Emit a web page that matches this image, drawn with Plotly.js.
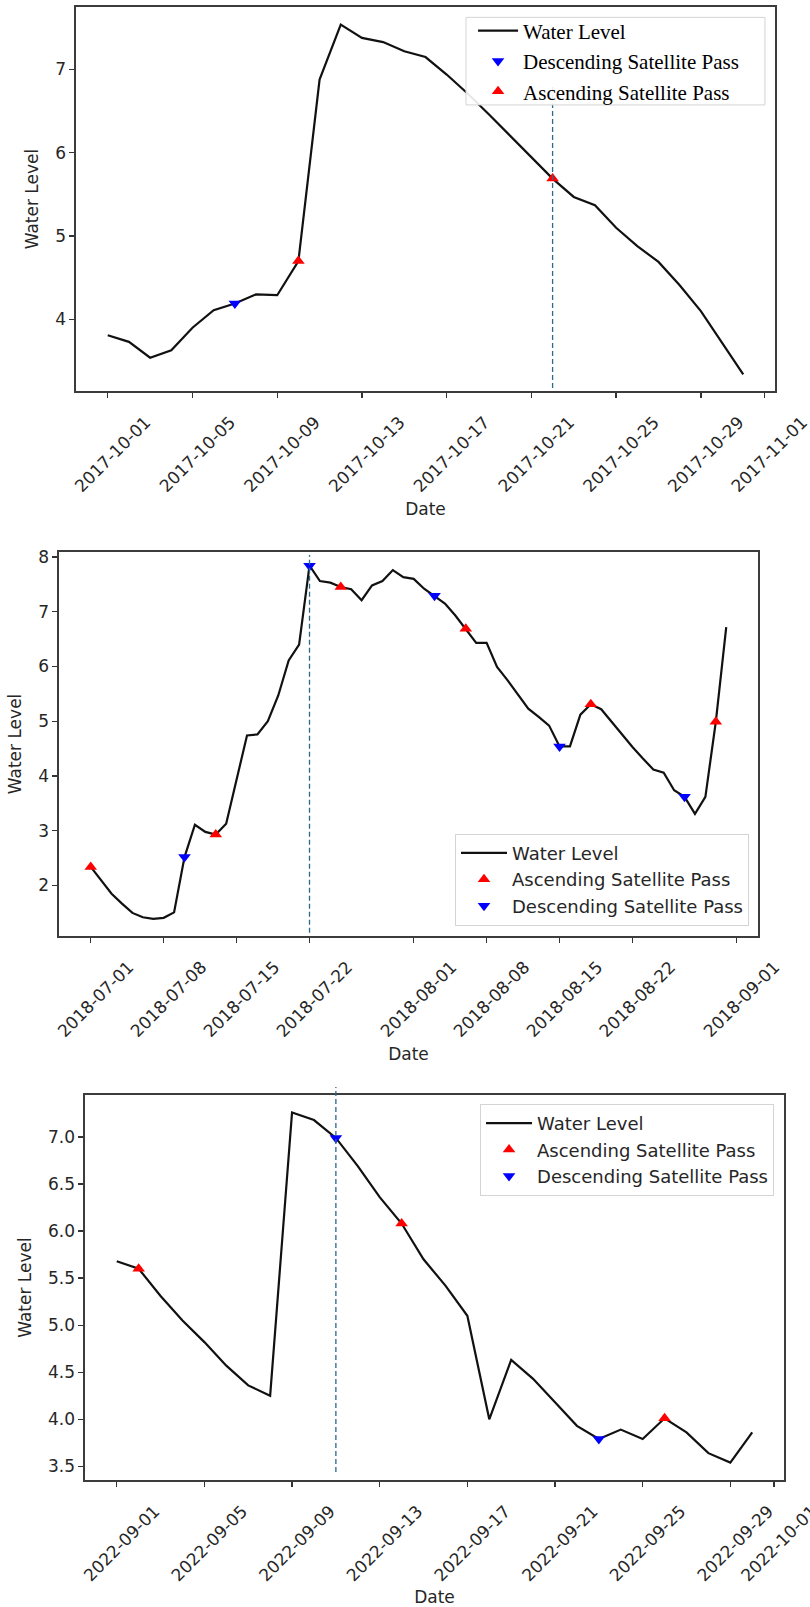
<!DOCTYPE html>
<html>
<head>
<meta charset="utf-8">
<script src="https://cdn.plot.ly/plotly-3.0.1.min.js"></script>
<style>
  html, body { margin: 0; padding: 0; background: #ffffff; }
  #chart { width: 810px; height: 1607px; }
</style>
</head>
<body>
<div id="chart"></div>
<script>
// ---------- Panel 1: October 2017 ----------
const dates1 = ['2017-10-01','2017-10-02','2017-10-03','2017-10-04','2017-10-05','2017-10-06','2017-10-07','2017-10-08','2017-10-09','2017-10-10',
  '2017-10-11','2017-10-12','2017-10-13','2017-10-14','2017-10-15','2017-10-16','2017-10-17','2017-10-18','2017-10-19','2017-10-20',
  '2017-10-21','2017-10-22','2017-10-23','2017-10-24','2017-10-25','2017-10-26','2017-10-27','2017-10-28','2017-10-29','2017-10-30','2017-10-31'];
const level1 = [3.81, 3.73, 3.54, 3.63, 3.90, 4.11, 4.19, 4.30, 4.29, 4.70,
  6.88, 7.54, 7.38, 7.33, 7.22, 7.15, 6.94, 6.71, 6.46, 6.20,
  5.94, 5.69, 5.47, 5.37, 5.10, 4.88, 4.69, 4.41, 4.10, 3.72, 3.34];
const descDates1 = ['2017-10-07'];
const descVals1 = [4.19];
const ascDates1 = ['2017-10-10', '2017-10-22'];
const ascVals1 = [4.70, 5.69];
const event1 = '2017-10-22';
const ticks1 = ['2017-10-01','2017-10-05','2017-10-09','2017-10-13','2017-10-17','2017-10-21','2017-10-25','2017-10-29','2017-11-01'];
const yticks1 = [4, 5, 6, 7];

// ---------- Panel 2: July-August 2018 ----------
const dates2 = ['2018-07-01','2018-07-02','2018-07-03','2018-07-04','2018-07-05','2018-07-06','2018-07-07','2018-07-08','2018-07-09','2018-07-10',
  '2018-07-11','2018-07-12','2018-07-13','2018-07-14','2018-07-15','2018-07-16','2018-07-17','2018-07-18','2018-07-19','2018-07-20',
  '2018-07-21','2018-07-22','2018-07-23','2018-07-24','2018-07-25','2018-07-26','2018-07-27','2018-07-28','2018-07-29','2018-07-30',
  '2018-07-31','2018-08-01','2018-08-02','2018-08-03','2018-08-04','2018-08-05','2018-08-06','2018-08-07','2018-08-08','2018-08-09',
  '2018-08-10','2018-08-11','2018-08-12','2018-08-13','2018-08-14','2018-08-15','2018-08-16','2018-08-17','2018-08-18','2018-08-19',
  '2018-08-20','2018-08-21','2018-08-22','2018-08-23','2018-08-24','2018-08-25','2018-08-26','2018-08-27','2018-08-28','2018-08-29',
  '2018-08-30','2018-08-31'];
const level2 = [2.34, 2.09, 1.85, 1.67, 1.50, 1.42, 1.39, 1.41, 1.51, 2.52,
  3.11, 2.98, 2.93, 3.13, 3.95, 4.74, 4.76, 5.00, 5.47, 6.11,
  6.40, 7.84, 7.56, 7.53, 7.45, 7.41, 7.21, 7.48, 7.56, 7.76,
  7.63, 7.60, 7.42, 7.29, 7.15, 6.93, 6.69, 6.43, 6.43, 5.99,
  5.75, 5.48, 5.23, 5.08, 4.92, 4.54, 4.54, 5.12, 5.31, 5.22,
  4.99, 4.75, 4.53, 4.32, 4.12, 4.06, 3.74, 3.62, 3.31, 3.62,
  4.99, 6.72];
const ascDates2 = ['2018-07-01','2018-07-13','2018-07-25','2018-08-06','2018-08-18','2018-08-30'];
const ascVals2 = [2.34, 2.93, 7.45, 6.69, 5.31, 4.99];
const descDates2 = ['2018-07-10','2018-07-22','2018-08-03','2018-08-15','2018-08-27'];
const descVals2 = [2.52, 7.84, 7.29, 4.54, 3.62];
const event2 = '2018-07-22';
const ticks2 = ['2018-07-01','2018-07-08','2018-07-15','2018-07-22','2018-08-01','2018-08-08','2018-08-15','2018-08-22','2018-09-01'];
const yticks2 = [2, 3, 4, 5, 6, 7, 8];

// ---------- Panel 3: September 2022 ----------
const dates3 = ['2022-09-01','2022-09-02','2022-09-03','2022-09-04','2022-09-05','2022-09-06','2022-09-07','2022-09-08','2022-09-09','2022-09-10',
  '2022-09-11','2022-09-12','2022-09-13','2022-09-14','2022-09-15','2022-09-16','2022-09-17','2022-09-18','2022-09-19','2022-09-20',
  '2022-09-21','2022-09-22','2022-09-23','2022-09-24','2022-09-25','2022-09-26','2022-09-27','2022-09-28','2022-09-29','2022-09-30'];
const level3 = [5.68, 5.60, 5.31, 5.05, 4.82, 4.57, 4.36, 4.25, 7.26, 7.18,
  6.99, 6.69, 6.36, 6.08, 5.70, 5.42, 5.10, 4.00, 4.63, 4.43,
  4.18, 3.93, 3.79, 3.89, 3.79, 4.01, 3.86, 3.64, 3.54, 3.86];
const ascDates3 = ['2022-09-02','2022-09-14','2022-09-26'];
const ascVals3 = [5.60, 6.08, 4.01];
const descDates3 = ['2022-09-11','2022-09-23'];
const descVals3 = [6.99, 3.79];
const event3 = '2022-09-11';
const ticks3 = ['2022-09-01','2022-09-05','2022-09-09','2022-09-13','2022-09-17','2022-09-21','2022-09-25','2022-09-29','2022-10-01'];
const yticks3 = [3.5, 4.0, 4.5, 5.0, 5.5, 6.0, 6.5, 7.0];

// ---------- styling ----------
const LINE_COLOR = '#111111';
const ASC_COLOR = '#ff0000';
const DESC_COLOR = '#0000ff';
const VLINE_COLOR = '#2a6a8c';
const SANS = 'DejaVu Sans, sans-serif';
const SERIF = 'Liberation Serif, Times New Roman, serif';
const TXT = '#262626';

function lineTrace(x, y, xa, ya, lg) {
  return { x: x, y: y, xaxis: xa, yaxis: ya, legend: lg, type: 'scatter', mode: 'lines',
    name: 'Water Level', line: { color: LINE_COLOR, width: 2.2 }, hoverinfo: 'x+y' };
}
function markerTrace(x, y, xa, ya, lg, name, sym, col) {
  return { x: x, y: y, xaxis: xa, yaxis: ya, legend: lg, type: 'scatter', mode: 'markers',
    name: name, marker: { symbol: sym, color: col, size: 11, line: { width: 0 } } };
}

const data = [
  lineTrace(dates1, level1, 'x', 'y', 'legend'),
  markerTrace(descDates1, descVals1, 'x', 'y', 'legend', 'Descending Satellite Pass', 'triangle-down', DESC_COLOR),
  markerTrace(ascDates1, ascVals1, 'x', 'y', 'legend', 'Ascending Satellite Pass', 'triangle-up', ASC_COLOR),

  lineTrace(dates2, level2, 'x2', 'y2', 'legend2'),
  markerTrace(ascDates2, ascVals2, 'x2', 'y2', 'legend2', 'Ascending Satellite Pass', 'triangle-up', ASC_COLOR),
  markerTrace(descDates2, descVals2, 'x2', 'y2', 'legend2', 'Descending Satellite Pass', 'triangle-down', DESC_COLOR),

  lineTrace(dates3, level3, 'x3', 'y3', 'legend3'),
  markerTrace(ascDates3, ascVals3, 'x3', 'y3', 'legend3', 'Ascending Satellite Pass', 'triangle-up', ASC_COLOR),
  markerTrace(descDates3, descVals3, 'x3', 'y3', 'legend3', 'Descending Satellite Pass', 'triangle-down', DESC_COLOR)
];

function xAxis(domain, range, ticks, anchor) {
  return {
    domain: domain, range: range, anchor: anchor, type: 'date',
    tickmode: 'array', tickvals: ticks, ticktext: ticks,
    tickangle: -45, ticks: 'outside', ticklen: 5, tickwidth: 1.3, tickcolor: '#333',
    ticklabelshift: 38, ticklabelstandoff: 8, ticklabeloverflow: 'allow',
    tickfont: { family: SANS, size: 17, color: TXT },
    showline: true, linecolor: '#3c3c3c', linewidth: 1.6, mirror: true,
    showgrid: false, zeroline: false, automargin: false,
    title: { text: 'Date', font: { family: SANS, size: 17, color: TXT }, standoff: 8 }
  };
}
function yAxis(domain, range, ticks, anchor, fmt) {
  return {
    domain: domain, range: range, anchor: anchor,
    tickmode: 'array', tickvals: ticks, ticktext: ticks.map(v => fmt ? v.toFixed(1) : String(v)),
    ticks: 'outside', ticklen: 5, tickwidth: 1.3, tickcolor: '#333',
    tickfont: { family: SANS, size: 17, color: TXT },
    showline: true, linecolor: '#3c3c3c', linewidth: 1.6, mirror: true,
    showgrid: false, zeroline: false, automargin: false,
    title: { text: 'Water Level', font: { family: SANS, size: 17, color: TXT }, standoff: 12 }
  };
}

function vline(xval, xa, ya, y0, y1) {
  return { type: 'line', xref: xa, yref: ya + ' domain', x0: xval, x1: xval, y0: y0, y1: y1,
    line: { color: VLINE_COLOR, width: 1.3, dash: '5px,3px' }, layer: 'above' };
}

const layout = {
  width: 810, height: 1607,
  margin: { l: 0, r: 0, t: 0, b: 0, pad: 0 },
  paper_bgcolor: '#ffffff', plot_bgcolor: '#ffffff',
  showlegend: true,
  xaxis:  xAxis([0.0938, 0.9568], ['2017-09-29 12:00', '2017-11-01 12:00'], ticks1, 'y'),
  yaxis:  yAxis([0.7567, 0.9956], [3.14, 7.75], yticks1, 'x', false),
  xaxis2: xAxis([0.0728, 0.9358], ['2018-06-27 22:48', '2018-09-03 01:12'], ticks2, 'y2'),
  yaxis2: yAxis([0.4176, 0.6565], [1.08, 8.09], yticks2, 'x2', false),
  xaxis3: xAxis([0.1049, 0.9679], ['2022-08-30 13:12', '2022-10-01 10:48'], ticks3, 'y3'),
  yaxis3: yAxis([0.0790, 0.3186], [3.354, 7.446], yticks3, 'x3', true),
  // panel 1 legend: serif text, frame drawn as a separate shape (matplotlib-style padding)
  legend: { x: 0.5840, y: 0.9620, xanchor: 'left', yanchor: 'middle', xref: 'paper', yref: 'paper',
    bgcolor: 'rgba(0,0,0,0)', borderwidth: 0, itemwidth: 40,
    font: { family: SERIF, size: 21, color: '#000' } },
  legend2: { x: 0.9247, y: 0.4240, xanchor: 'right', yanchor: 'bottom', xref: 'paper', yref: 'paper',
    bgcolor: 'rgba(255,255,255,0.88)', bordercolor: '#d4d4d4', borderwidth: 1, itemwidth: 46,
    font: { family: SANS, size: 18, color: TXT } },
  legend3: { x: 0.9556, y: 0.3130, xanchor: 'right', yanchor: 'top', xref: 'paper', yref: 'paper',
    bgcolor: 'rgba(255,255,255,0.88)', bordercolor: '#d4d4d4', borderwidth: 1, itemwidth: 46,
    font: { family: SANS, size: 18, color: TXT } },
  shapes: [
    vline(event1, 'x', 'y', 0.008, 0.8),
    vline(event2, 'x2', 'y2', 0.008, 0.992),
    vline(event3, 'x3', 'y3', 0.021, 1.021),
    { type: 'rect', xref: 'paper', yref: 'paper', x0: 0.5753, x1: 0.9444, y0: 0.9347, y1: 0.9892,
      fillcolor: 'rgba(255,255,255,0.9)', line: { color: '#d4d4d4', width: 1 }, layer: 'above' }
  ]
};

Plotly.newPlot('chart', data, layout, { displayModeBar: false, staticPlot: true });
</script>
</body>
</html>
